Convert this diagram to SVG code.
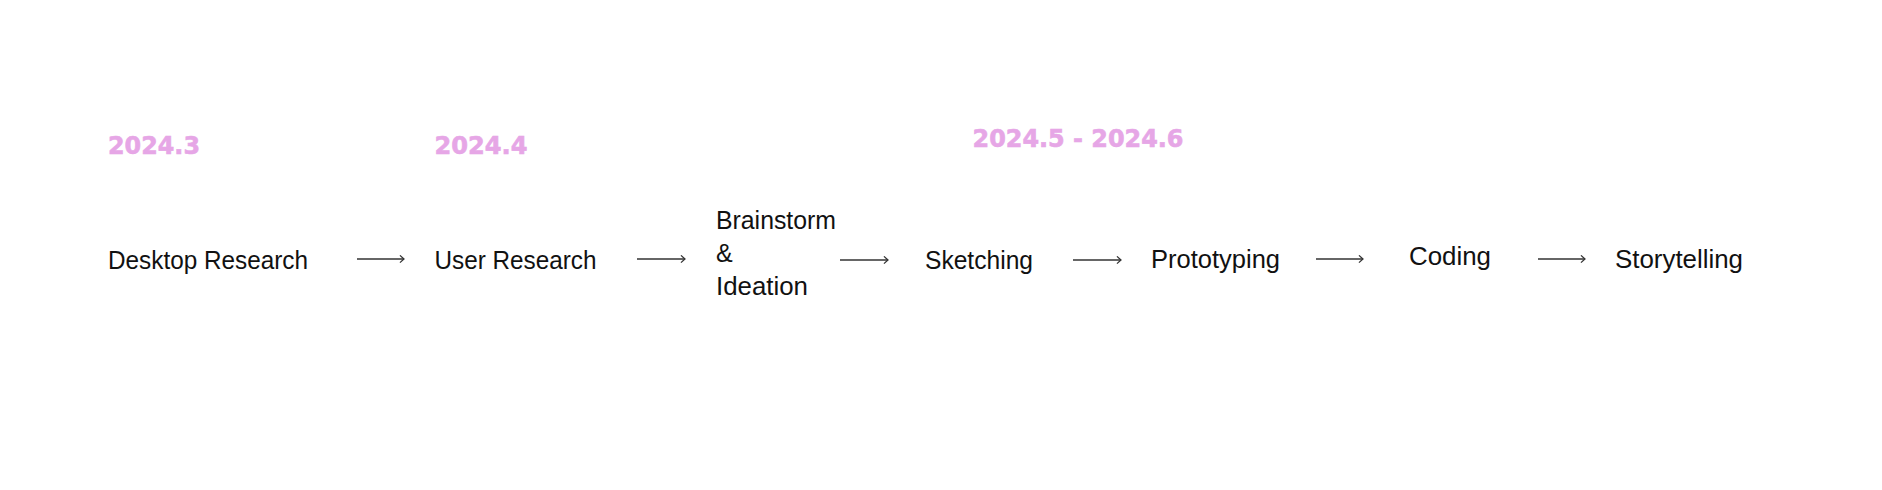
<svg xmlns="http://www.w3.org/2000/svg" width="1882" height="490" viewBox="0 0 1882 490">
  <style>
    .lbl { font-family: "Liberation Sans", Arial, sans-serif; font-size: 25px; fill: #111111; }
    .date { font-family: "DejaVu Sans", "Liberation Sans", sans-serif; font-weight: bold; font-size: 24px; fill: #E6A6E6; stroke: #E6A6E6; stroke-width: 0.6; }
    .conn { stroke: #333333; stroke-width: 1.3; fill: none; marker-end: url(#arr); }
  </style>
  <defs>
    <marker id="arr" viewBox="0 0 10 10" refX="9" refY="5" markerWidth="9" markerHeight="9" markerUnits="userSpaceOnUse" orient="auto">
      <path d="M4.5 1 L9 5 L4.5 9" fill="none" stroke="#333333" stroke-width="1.4"/>
    </marker>
  </defs>
  <rect width="1882" height="490" fill="#ffffff"/>

  <g id="dates">
    <text id="date-2024-3" class="date" x="108" y="154" textLength="92" lengthAdjust="spacingAndGlyphs">2024.3</text>
    <text id="date-2024-4" class="date" x="434.5" y="154" textLength="93" lengthAdjust="spacingAndGlyphs">2024.4</text>
    <text id="date-2024-5-6" class="date" x="972.5" y="147" textLength="211" lengthAdjust="spacingAndGlyphs">2024.5 - 2024.6</text>
  </g>

  <g id="node-desktop-research">
    <text class="lbl" x="108" y="269" textLength="200" lengthAdjust="spacingAndGlyphs">Desktop Research</text>
  </g>
  <g id="node-user-research">
    <text class="lbl" x="434.5" y="269" textLength="162" lengthAdjust="spacingAndGlyphs">User Research</text>
  </g>
  <g id="node-brainstorm">
    <text class="lbl" x="716" y="229" textLength="120" lengthAdjust="spacingAndGlyphs">Brainstorm</text>
    <text class="lbl" x="716" y="262">&amp;</text>
    <text class="lbl" x="716" y="295" textLength="92" lengthAdjust="spacingAndGlyphs">Ideation</text>
  </g>
  <g id="node-sketching">
    <text class="lbl" x="925" y="269" textLength="108" lengthAdjust="spacingAndGlyphs">Sketching</text>
  </g>
  <g id="node-prototyping">
    <text class="lbl" x="1151" y="268" textLength="129" lengthAdjust="spacingAndGlyphs">Prototyping</text>
  </g>
  <g id="node-coding">
    <text class="lbl" x="1409" y="265" textLength="82" lengthAdjust="spacingAndGlyphs">Coding</text>
  </g>
  <g id="node-storytelling">
    <text class="lbl" x="1615" y="268" textLength="128" lengthAdjust="spacingAndGlyphs">Storytelling</text>
  </g>

  <g id="connectors">
    <line class="conn" x1="357" y1="259" x2="404" y2="259"/>
    <line class="conn" x1="637" y1="259" x2="685" y2="259"/>
    <line class="conn" x1="840" y1="260" x2="888" y2="260"/>
    <line class="conn" x1="1073" y1="260" x2="1121" y2="260"/>
    <line class="conn" x1="1316" y1="259" x2="1363" y2="259"/>
    <line class="conn" x1="1538" y1="259" x2="1585" y2="259"/>
  </g>
</svg>
